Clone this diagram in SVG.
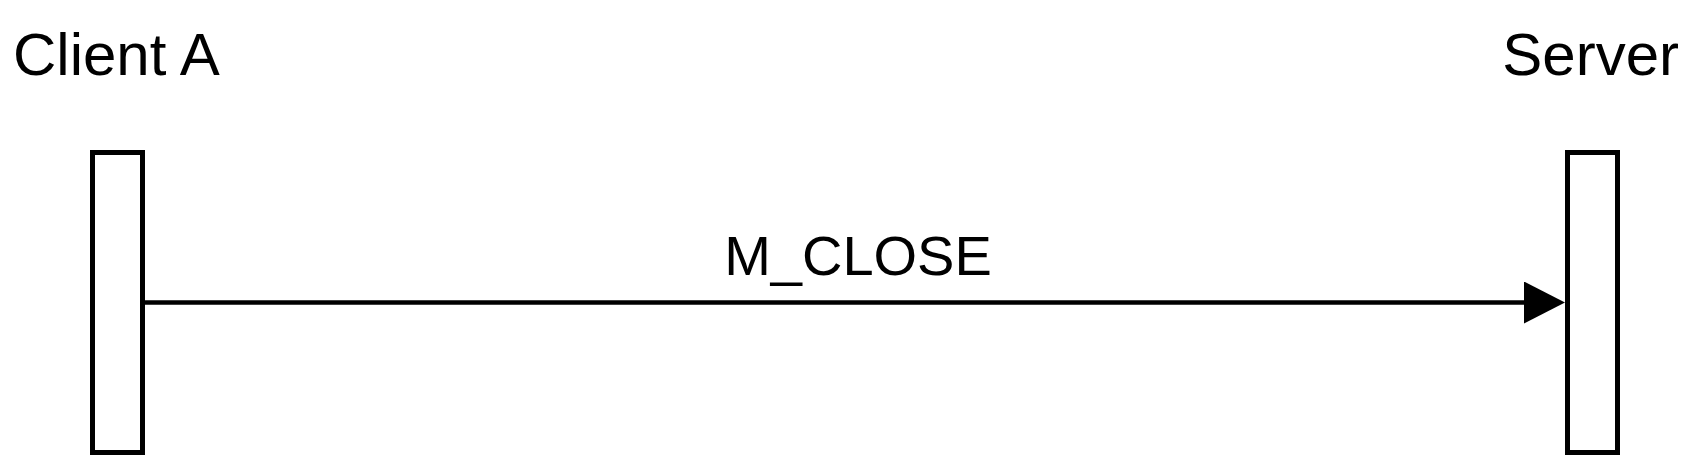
<svg xmlns="http://www.w3.org/2000/svg" width="1695" height="455" viewBox="0 0 1695 455">
<style>
.lbl{font-family:"Liberation Sans",Arial,sans-serif;fill:#000}
.life{fill:#fff;stroke:#000;stroke-width:5}
.msg{stroke:#000;stroke-width:4.5;fill:none}
</style>
<defs>
<marker id="arr" markerUnits="userSpaceOnUse" markerWidth="42" markerHeight="44" refX="2" refY="21" orient="auto" viewBox="0 0 42 44">
<path d="M0,0 L41,21 L0,42 Z" fill="#000"/>
</marker>
</defs>
<rect width="1695" height="455" fill="#fff"/>
<g id="clientA">
<text class="lbl" x="13" y="75" font-size="60">Client A</text>
<rect class="life" x="92.5" y="152.5" width="50" height="300"/>
</g>
<g id="server">
<text class="lbl" x="1679" y="75" font-size="60" text-anchor="end">Server</text>
<rect class="life" x="1567.5" y="152.5" width="50" height="300"/>
</g>
<g id="connectors">
<line class="msg" x1="145" y1="302.5" x2="1526" y2="302.5" marker-end="url(#arr)"/>
<text class="lbl" x="858" y="275" font-size="56" text-anchor="middle">M_CLOSE</text>
</g>
</svg>
